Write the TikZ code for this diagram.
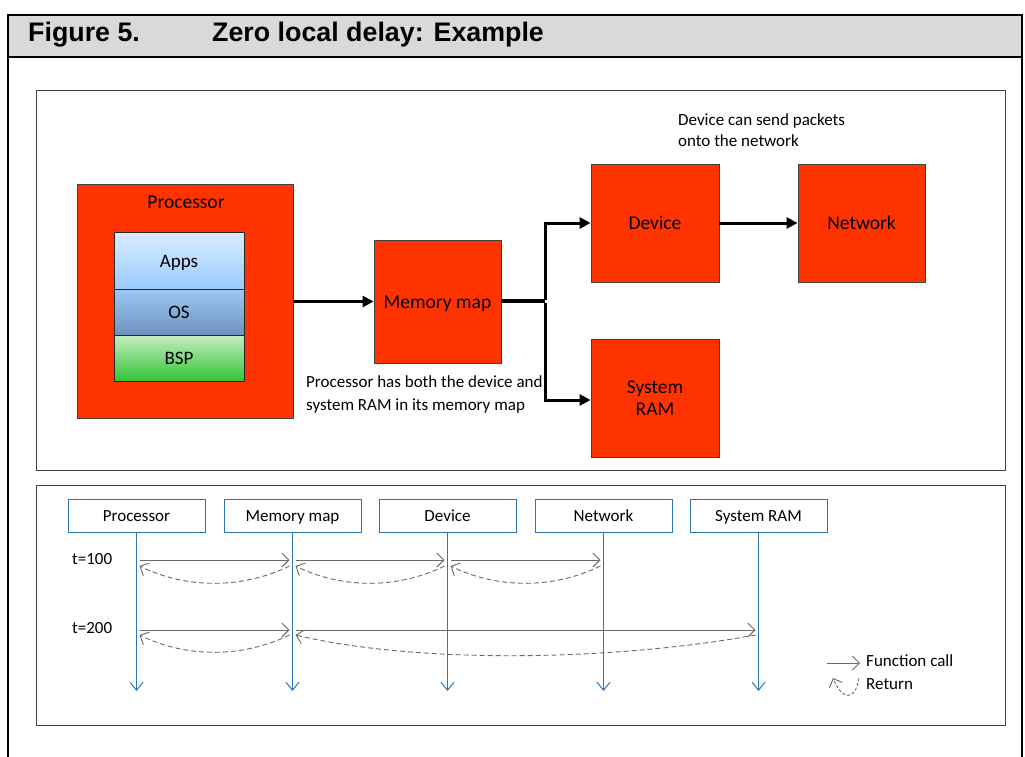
\documentclass[tikz,border=0pt]{standalone}
\usepackage{fontspec}
\setmainfont{Carlito}
\newfontfamily\headfont{Liberation Sans}
\usetikzlibrary{arrows.meta,calc}

\definecolor{blockred}{RGB}{255,51,0}
\definecolor{headgray}{RGB}{217,217,217}
\definecolor{lifeblue}{RGB}{46,117,182}
\definecolor{msggray}{RGB}{105,105,105}

\tikzset{
  block/.style={draw=black!75, line width=0.8pt, fill=blockred, inner sep=0pt,
    font=\fontsize{19.5}{22}\selectfont, align=center},
  oneline/.style={text height=15pt, text depth=1.4pt},
  layer/.style={draw=black!85, line width=0.9pt, minimum width=130, inner sep=0pt,
    text height=15pt, text depth=1.8pt, font=\fontsize{19}{22}\selectfont},
  bigarrow/.style={line width=3pt, -{Triangle[length=11pt,width=11pt]}},
  note/.style={font=\fontsize{17}{22.5}\selectfont, align=left, inner sep=0pt},
  head/.style={draw=lifeblue, line width=0.9pt, fill=white, minimum width=137,
    minimum height=33, inner sep=0pt, text height=13.5pt, text depth=2.5pt,
    font=\fontsize{17}{20}\selectfont},
  lifeline/.style={lifeblue, line width=1pt, -{Straight Barb[length=8pt,width=13pt,line width=1pt]}},
  callmsg/.style={msggray, line width=0.9pt, -{Straight Barb[length=7pt,width=14pt,line width=0.9pt]}},
  retmsg/.style={msggray, line width=0.9pt, dash pattern=on 5pt off 3pt,
    -{Straight Barb[length=7pt,width=14pt,line width=0.9pt]}},
  small/.style={font=\fontsize{17}{20}\selectfont, inner sep=0pt},
  panel/.style={draw=black!75, line width=1pt}
}

\begin{document}
\begin{tikzpicture}[x=1pt,y=-1pt]
\useasboundingbox (0,0) rectangle (1025,756);
\fill[white] (0,0) rectangle (1025,756);

% heading bar and outer frame
\fill[headgray] (8,15) rectangle (1022,57);
\draw[line width=2pt] (8,757) -- (8,15) -- (1022,15) -- (1022,757);
\draw[line width=2pt] (8,57) -- (1022,57);
\node[anchor=base west, inner sep=0pt, font=\headfont\bfseries\fontsize{26.8}{30}\selectfont]
  (fignum) at (28,41.5) {Figure 5.};
\node[anchor=base west, inner sep=0pt, font=\headfont\bfseries\fontsize{26.8}{30}\selectfont]
  (figtitle) at (212,41.5) {Zero local delay: Example};

% the two panels
\draw[panel] (36,90) rectangle (1005,470);
\draw[panel] (36,485) rectangle (1005,725);

% ---------- block diagram ----------
\node[block, minimum width=216, minimum height=234] (proc) at (185,301) {};
\node[inner sep=0pt, font=\fontsize{19.5}{22}\selectfont] (proclabel) at (186,202.5) {Processor};
\node[layer, minimum height=57, top color={rgb,255:red,219;green,236;blue,255}, bottom color={rgb,255:red,155;green,203;blue,255}]
  (apps) at (179,260.5) {Apps};
\node[layer, minimum height=46, top color={rgb,255:red,158;green,199;blue,244}, bottom color={rgb,255:red,110;green,146;blue,190}]
  (os) at (179,312) {OS};
\node[layer, minimum height=46, top color={rgb,255:red,196;green,238;blue,196}, bottom color={rgb,255:red,52;green,196;blue,52}]
  (bsp) at (179,358) {BSP};

\node[block, oneline, minimum width=127, minimum height=123] (mm) at (437.5,301.5) {Memory map};
\node[block, oneline, minimum width=128, minimum height=118] (dev) at (655,223) {Device};
\node[block, oneline, minimum width=127, minimum height=118] (net) at (861.5,223) {Network};
\node[block, minimum width=128, minimum height=118] (ram) at (655,398) {System\\RAM};

\coordinate (split) at (545,301);
\draw[bigarrow] (proc.east |- mm.west) -- (mm.west);
\draw[line width=3.5pt] (mm.east |- split) -- (split);
\draw[bigarrow] ($(split)+(0,-1.5)$) |- (dev.west);
\draw[bigarrow] ($(split)+(0,1.5)$) |- ($(ram.west)+(0,2)$);
\draw[bigarrow] (dev.east) -- (net.west);

\node[note, anchor=west] (mmnote) at (306,394.5) {Processor has both the device and\\system RAM in its memory map};
\node[note, anchor=west, font=\fontsize{17}{21}\selectfont] (devnote) at (678,130.5) {Device can send packets\\onto the network};

% ---------- sequence diagram ----------
\node[head] (hP) at (136.5,515.5) {Processor};
\node[head] (hM) at (292.5,515.5) {Memory map};
\node[head] (hD) at (447.5,515.5) {Device};
\node[head] (hN) at (603.5,515.5) {Network};
\node[head] (hR) at (758.5,515.5) {System RAM};

\coordinate (ybot) at (0,691);
\foreach \h in {hP,hM,hD,hN,hR}
  \draw[lifeline] (\h.south) -- (\h.south |- ybot);

\node[small, anchor=west] (t1) at (72,559) {t=100};
\node[small, anchor=west] (t2) at (72,628) {t=200};

% rows of messages
\coordinate (c1) at (0,560);
\coordinate (r1) at (0,566);
\coordinate (c2) at (0,630);
\coordinate (r2) at (0,635);

% t=100: Processor -> Memory map -> Device -> Network, each returning
\draw[callmsg] ($(hP.south |- c1)+(3,0)$) -- ($(hM.south |- c1)+(-3,0)$);
\draw[callmsg] ($(hM.south |- c1)+(3,0)$) -- ($(hD.south |- c1)+(-3,0)$);
\draw[callmsg] ($(hD.south |- c1)+(3,0)$) -- ($(hN.south |- c1)+(-3,0)$);
\foreach \a/\b in {hM/hP, hD/hM, hN/hD}{
  \draw[retmsg] ($(\a.south |- r1)+(-3,0)$)
    .. controls ($(\a.south |- r1)+(-50,23)$) and ($(\b.south |- r1)+(50,23)$)
    .. ($(\b.south |- r1)+(3,0)$);
}

% t=200: Processor -> Memory map -> System RAM
\draw[callmsg] ($(hP.south |- c2)+(3,0)$) -- ($(hM.south |- c2)+(-3,0)$);
\draw[callmsg] ($(hM.south |- c2)+(3,0)$) -- ($(hR.south |- c2)+(-3,0)$);
\draw[retmsg] ($(hM.south |- r2)+(-3,0)$)
  .. controls ($(hM.south |- r2)+(-50,23)$) and ($(hP.south |- r2)+(50,23)$)
  .. ($(hP.south |- r2)+(3,0)$);
\draw[retmsg] ($(hR.south |- r2)+(-3,0)$)
  .. controls ($(hR.south |- r2)+(-140,25)$) and ($(hM.south |- r2)+(130,30)$)
  .. ($(hM.south |- r2)+(3,0)$);

% legend
\coordinate (lc0) at (827,663);
\coordinate (lc1) at (860,663);
\draw[callmsg] (lc0) -- (lc1);
\node[small, anchor=west] (lcall) at (866,661) {Function call};
\coordinate (lr0) at (859,678);
\coordinate (lr1) at (833,678);
\draw[retmsg, dash pattern=on 3pt off 2pt] (lr0) .. controls (855,702) and (842,700) .. (lr1);
\node[small, anchor=west] (lret) at (866,684) {Return};
\end{tikzpicture}
\end{document}
